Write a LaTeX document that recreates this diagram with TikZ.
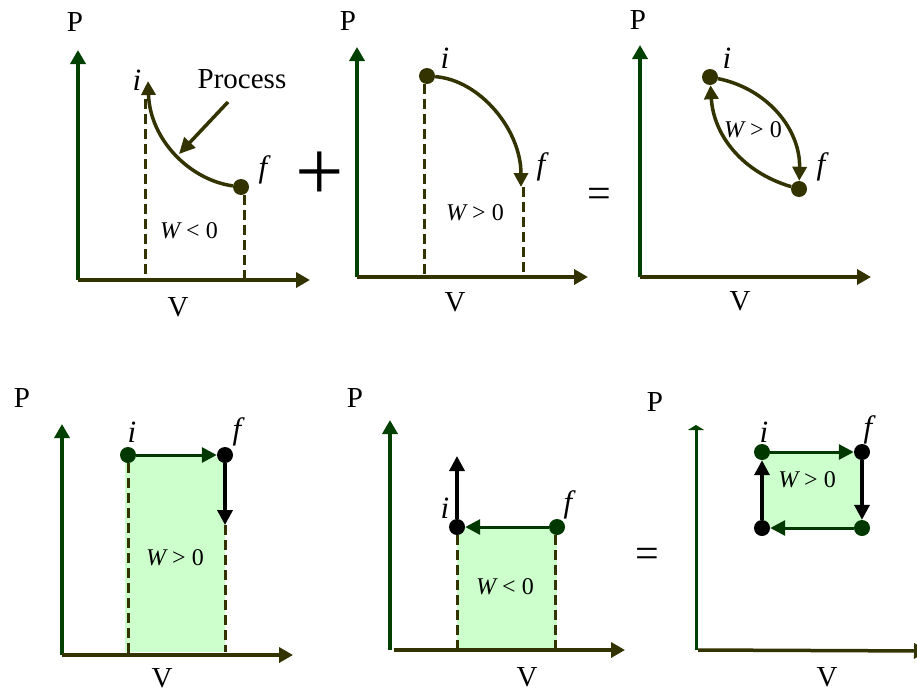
\documentclass[tikz,border=0pt]{standalone}
\usepackage{fontspec}
\setmainfont{Liberation Serif}
\usetikzlibrary{arrows.meta}
\definecolor{axisgreen}{RGB}{0,64,0}
\definecolor{axisolive}{RGB}{51,51,0}
\definecolor{stategreen}{RGB}{0,56,0}
\definecolor{workfill}{RGB}{204,255,204}
\begin{document}
\begin{tikzpicture}[
  x=1pt, y=-1pt,
  axis/.style={line width=3.5pt, -{Triangle[length=14pt, width=15pt]}},
  pvline/.style={draw=axisolive, line width=3.5pt, -{Triangle[length=14pt, width=14pt]}},
  stroke/.style={line width=3.5pt, -{Triangle[length=15pt, width=15pt]}},
  drop/.style={draw=axisolive, line width=3pt, dash pattern=on 10pt off 5pt},
  state/.style={circle, fill=axisolive, inner sep=0pt, minimum size=16pt},
  work/.style={font=\fontsize{24}{28}\selectfont},
  stlbl/.style={font=\fontsize{31}{35}\selectfont\itshape},
  every node/.style={font=\fontsize{29}{34}\selectfont}
]
  \useasboundingbox (0,0) rectangle (917,693);

  \coordinate (o1) at (78,280);
  \coordinate (p1) at (78,50);
  \coordinate (v1) at (310,280);
  \draw[axis, axisgreen] (o1) -- (p1);
  \draw[axis, axisolive] (o1) -- (v1);
  \node (P1) at (75,22) {P};
  \node (V1) at (178,307) {V};
  \coordinate (i1) at (148,81);
  \node[state] (f1) at (241,187) {};
  \draw[pvline] (f1) .. controls (190,180) and (150,140) .. (i1);
  \draw[drop] ([xshift=-3pt, yshift=-18pt]i1) -- ([xshift=-3pt]i1 |- o1);
  \draw[drop] ([xshift=3pt]f1.south) -- ([xshift=3pt]f1 |- o1);
  \node (proc) at (242,79) {Process};
  \coordinate (t1) at (228,102);
  \coordinate (c1) at (179,154);
  \draw[pvline, -{Triangle[length=16pt, width=15pt]}] (t1) -- (c1);
  \node[stlbl] (li1) at (137,80) {i};
  \node[stlbl] (lf1) at (263,170) {f};
  \node[work] (w1) at (189,231) {{\itshape W}\hspace{0.25em}<\hspace{0.25em}0};

  \node[font=\fontsize{86}{86}\selectfont] (plus) at (320,176) {+};

  \coordinate (o2) at (357,277);
  \coordinate (p2) at (357,47);
  \coordinate (v2) at (588,277);
  \draw[axis, axisgreen] (o2) -- (p2);
  \draw[axis, axisolive] (o2) -- (v2);
  \node (P2) at (348,21) {P};
  \node (V2) at (455,302) {V};
  \node[state] (i2) at (427,76) {};
  \coordinate (f2) at (521,187);
  \draw[pvline] (i2) .. controls (480,80) and (521,130) .. (f2);
  \draw[drop] ([xshift=-3pt]i2.south) -- ([xshift=-3pt]i2 |- o2);
  \draw[drop] ([xshift=2pt]f2) -- ([xshift=2pt]f2 |- o2);
  \node[stlbl] (li2) at (445,58) {i};
  \node[stlbl] (lf2) at (541,167) {f};
  \node[work] (w2) at (475,213) {{\itshape W}\hspace{0.25em}>\hspace{0.25em}0};

  \node[font=\fontsize{42}{42}\selectfont] (eq1) at (599,198) {=};

  \coordinate (o3) at (640,277);
  \coordinate (p3) at (640,45);
  \coordinate (v3) at (871,277);
  \draw[axis, axisgreen] (o3) -- (p3);
  \draw[axis, axisolive] (o3) -- (v3);
  \node (P3) at (638,20) {P};
  \node (V3) at (740,301) {V};
  \node[state] (i3) at (710,77) {};
  \node[state] (f3) at (799,189) {};
  \draw[pvline] (i3) to[bend left=40] (f3);
  \draw[pvline] (f3) to[bend left=35] (i3);
  \node[stlbl] (li3) at (727,58) {i};
  \node[stlbl] (lf3) at (821,167) {f};
  \node[work] (w3) at (753,130) {{\itshape W}\hspace{0.25em}>\hspace{0.25em}0};

  \coordinate (o4) at (62,655);
  \coordinate (p4) at (62,424);
  \coordinate (v4) at (293,655);
  \fill[workfill] (125,457) rectangle (225,652);
  \draw[axis, axisgreen] (o4) -- (p4);
  \draw[axis, axisolive] (o4) -- (v4);
  \node (P4) at (22,398) {P};
  \node (V4) at (162,678) {V};
  \node[state, fill=stategreen] (i4) at (128,455) {};
  \node[state, fill=black] (f4) at (225,455) {};
  \coordinate (b4) at (225,525);
  \draw[stroke, stategreen, line width=3pt] (i4) -- (f4);
  \draw[stroke, black] (f4) -- (b4);
  \draw[drop] (i4) -- (i4 |- o4);
  \draw[drop] (b4) -- ([yshift=3pt]b4 |- o4);
  \node[stlbl] (li4) at (132,432) {i};
  \node[stlbl] (lf4) at (237,432) {f};
  \node[work] (w4) at (175,558) {{\itshape W}\hspace{0.25em}>\hspace{0.25em}0};

  \coordinate (o5) at (390,650);
  \coordinate (p5) at (390,420);
  \coordinate (v5) at (625,650);
  \fill[workfill] (457,527) rectangle (557,648);
  \draw[axis, axisgreen] (o5) -- (p5);
  \draw[axis, axisolive] ([xshift=4pt]o5) -- (v5);
  \node (P5) at (355,398) {P};
  \node (V5) at (527,677) {V};
  \node[state, fill=black] (i5) at (457,527) {};
  \node[state, fill=stategreen] (f5) at (557,527) {};
  \coordinate (u5) at (457,456);
  \draw[stroke, stategreen, line width=3pt] (f5) -- (i5);
  \draw[stroke, black] (i5) -- (u5);
  \draw[drop] (i5) -- ([yshift=2pt]i5 |- o5);
  \draw[drop] ([xshift=-2pt]f5.south) -- ([xshift=-2pt]f5 |- o5);
  \node[stlbl] (li5) at (445,508) {i};
  \node[stlbl] (lf5) at (568,505) {f};
  \node[work] (w5) at (505,587) {{\itshape W}\hspace{0.25em}<\hspace{0.25em}0};

  \node[font=\fontsize{42}{42}\selectfont] (eq2) at (647,558) {=};

  \coordinate (o6) at (696,650);
  \coordinate (p6) at (696,425);
  \coordinate (v6) at (928,651);
  \fill[workfill] (762,453) rectangle (862,527);
  \draw[axisgreen, line width=3pt, -{Triangle[length=5pt, width=16pt]}] (o6) -- (p6);
  \draw[axis, axisolive] ([xshift=2pt]o6) -- (v6);
  \node (P6) at (655,402) {P};
  \node (V6) at (827,677) {V};
  \node[state, fill=stategreen] (a6) at (762,452) {};
  \node[state, fill=black] (b6) at (862,452) {};
  \node[state, fill=stategreen] (c6) at (862,528) {};
  \node[state, fill=black] (d6) at (762,528) {};
  \draw[stroke, stategreen, line width=3pt] (a6) -- (b6);
  \draw[stroke, black] (b6) -- (c6);
  \draw[stroke, stategreen, line width=3pt] (c6) -- (d6);
  \draw[stroke, black] (d6) -- (a6);
  \node[stlbl] (li6) at (764,432) {i};
  \node[stlbl] (lf6) at (868,430) {f};
  \node[work] (w6) at (807,480) {{\itshape W}\hspace{0.25em}>\hspace{0.25em}0};

\end{tikzpicture}
\end{document}
